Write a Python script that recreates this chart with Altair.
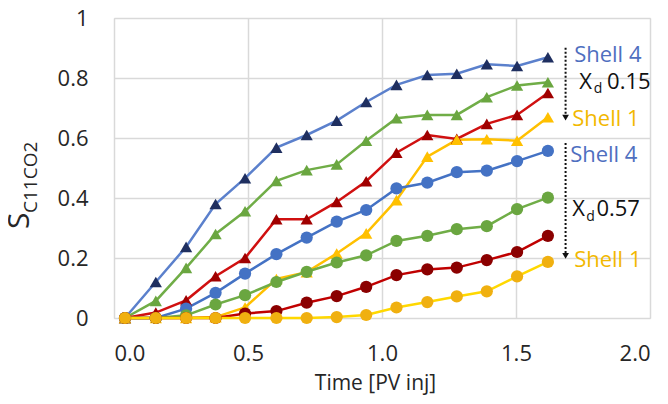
import altair as alt
import pandas as pd

# ---- data ----
time_pv = [0.041, 0.156, 0.269, 0.379, 0.489, 0.606, 0.719, 0.831, 0.941,
           1.054, 1.169, 1.279, 1.391, 1.504, 1.619]

series_names = ["T4", "T3", "T2", "T1", "C4", "C3", "C2", "C1"]
series_values = {
    "T4": [0.0, 0.12, 0.237, 0.38, 0.466, 0.568, 0.61, 0.658, 0.72, 0.777, 0.81, 0.814, 0.846, 0.84, 0.869],
    "T3": [0.0, 0.057, 0.167, 0.28, 0.356, 0.457, 0.493, 0.512, 0.591, 0.666, 0.677, 0.677, 0.736, 0.775, 0.786],
    "T2": [0.0, 0.018, 0.059, 0.139, 0.2, 0.329, 0.329, 0.387, 0.456, 0.551, 0.61, 0.597, 0.647, 0.677, 0.75],
    "T1": [0.0, 0.0, 0.0, 0.003, 0.035, 0.13, 0.153, 0.215, 0.282, 0.393, 0.538, 0.594, 0.596, 0.591, 0.669],
    "C4": [0.0, 0.0, 0.031, 0.084, 0.148, 0.213, 0.268, 0.321, 0.36, 0.432, 0.451, 0.486, 0.491, 0.523, 0.557],
    "C3": [0.0, 0.0, 0.009, 0.045, 0.076, 0.12, 0.154, 0.185, 0.209, 0.257, 0.274, 0.296, 0.306, 0.363, 0.401],
    "C2": [0.0, 0.0, 0.0, 0.0, 0.015, 0.023, 0.051, 0.073, 0.104, 0.143, 0.162, 0.168, 0.193, 0.22, 0.274],
    "C1": [0.0, 0.0, 0.0, 0.0, 0.0, 0.0, 0.0, 0.003, 0.01, 0.035, 0.053, 0.072, 0.089, 0.139, 0.187],
}
x_ticks = [0, 0.5, 1.0, 1.5, 2.0]
y_ticks = [0, 0.2, 0.4, 0.6, 0.8, 1.0]

# ---- styles ----
line_colors = ["#5B80CC", "#70AD47", "#D01010", "#FFC000",
               "#4472C4", "#70AD47", "#C00000", "#FFD800"]
marker_colors = ["#1F2F60", "#6AA640", "#A00000", "#FFC000",
                 "#4472C4", "#6AA640", "#8B0000", "#F0B010"]
shapes = ["triangle-up"] * 4 + ["circle"] * 4
marker_sizes = [150] * 4 + [110] * 4

rows = []
for s in series_names:
    for xv, yv in zip(time_pv, series_values[s]):
        rows.append({"series": s, "x": xv, "y": yv})
df = pd.DataFrame(rows)

xs = alt.Scale(domain=[0, 2], nice=False)
ys = alt.Scale(domain=[0, 1], nice=False)

base = alt.Chart(df)

lines = base.mark_line(strokeWidth=2.5).encode(
    x=alt.X("x:Q", scale=xs, axis=alt.Axis(
        values=x_ticks, format=".1f", title="Time [PV inj]",
        grid=True, gridColor="#D9D9D9", gridWidth=1.5, domain=False,
        ticks=False, labelFontSize=22, labelFont="Open Sans", labelColor="#262626",
        labelPadding=25, titleFont="Open Sans", titleFontSize=21,
        titleFontWeight="normal", titleColor="#262626", titleBaseline="alphabetic",
        titleY=71, titleX=261)),
    y=alt.Y("y:Q", scale=ys, axis=alt.Axis(
        values=y_ticks, format="~g", title=None,
        grid=True, gridColor="#D9D9D9", gridWidth=1.5, domain=False,
        ticks=False, labelFontSize=22, labelFont="Open Sans", labelColor="#262626",
        labelPadding=26)),
    color=alt.Color("series:N", scale=alt.Scale(domain=series_names, range=line_colors), legend=None),
    order=alt.Order("x:Q"),
)

points = base.mark_point(filled=True, opacity=1).encode(
    x=alt.X("x:Q", scale=xs),
    y=alt.Y("y:Q", scale=ys),
    color=alt.Color("series:N", scale=alt.Scale(domain=series_names, range=marker_colors), legend=None),
    shape=alt.Shape("series:N", scale=alt.Scale(domain=series_names, range=shapes), legend=None),
    size=alt.Size("series:N", scale=alt.Scale(domain=series_names, range=marker_sizes), legend=None),
)

# ---- annotations (data coordinates) ----
ann_big = pd.DataFrame([
    {"t": "Shell 4", "x": 1.717, "y": 0.877, "c": "#4F6FBF"},
    {"t": "Shell 1", "x": 1.71, "y": 0.662, "c": "#F2B800"},
    {"t": "Shell 4", "x": 1.702, "y": 0.543, "c": "#4F6FBF"},
    {"t": "Shell 1", "x": 1.717, "y": 0.194, "c": "#F2B800"},
    {"t": "X", "x": 1.736, "y": 0.786, "c": "#111111"},
    {"t": "0.15", "x": 1.840, "y": 0.786, "c": "#111111"},
    {"t": "X", "x": 1.71, "y": 0.365, "c": "#111111"},
    {"t": "0.57", "x": 1.800, "y": 0.365, "c": "#111111"},
])
ann_sub = pd.DataFrame([
    {"t": "d", "x": 1.790, "y": 0.764},
    {"t": "d", "x": 1.762, "y": 0.338},
])

texts = alt.Chart(ann_big).mark_text(align="left", baseline="middle", font="Open Sans", fontSize=22).encode(
    x=alt.X("x:Q", scale=xs), y=alt.Y("y:Q", scale=ys), text="t:N",
    color=alt.Color("c:N", scale=None),
)
subs = alt.Chart(ann_sub).mark_text(align="left", baseline="middle", font="Open Sans", fontSize=14, color="#111111").encode(
    x=alt.X("x:Q", scale=xs), y=alt.Y("y:Q", scale=ys), text="t:N",
)

arrows = pd.DataFrame([
    {"x": 1.685, "y1": 0.901, "y2": 0.668},
    {"x": 1.685, "y1": 0.583, "y2": 0.207},
])
arrow_lines = alt.Chart(arrows).mark_rule(strokeDash=[2, 2], strokeWidth=2, color="#111111").encode(
    x=alt.X("x:Q", scale=xs), y=alt.Y("y1:Q", scale=ys), y2="y2:Q",
)
arrow_heads = alt.Chart(arrows).mark_point(shape="triangle-down", filled=True, opacity=1, size=45, color="#111111").encode(
    x=alt.X("x:Q", scale=xs), y=alt.Y("y2:Q", scale=ys),
)

# ---- y-axis title with subscript ----
ytitle = alt.Chart(pd.DataFrame({"t": ["S"]})).mark_text(
    angle=270, align="left", baseline="alphabetic", font="Open Sans", fontSize=30, color="#262626"
).encode(x=alt.value(-85), y=alt.value(211), text="t:N")
ysub = alt.Chart(pd.DataFrame({"t": ["C11CO2"]})).mark_text(
    angle=270, align="left", baseline="alphabetic", font="Open Sans", fontSize=19, color="#262626"
).encode(x=alt.value(-77), y=alt.value(195), text="t:N")

chart = alt.layer(
    lines, points, arrow_lines, arrow_heads, texts, subs, ytitle, ysub
).resolve_scale(color="independent").properties(
    width=536, height=300,
    autosize=alt.AutoSizeParams(type="none"),
    padding={"left": 106, "top": 10, "right": 10, "bottom": 78},
).configure_view(stroke="#D0D0D0", strokeWidth=1.5).configure(background="white")

chart.save("out.html", embed_options={"renderer": "svg", "actions": False})
